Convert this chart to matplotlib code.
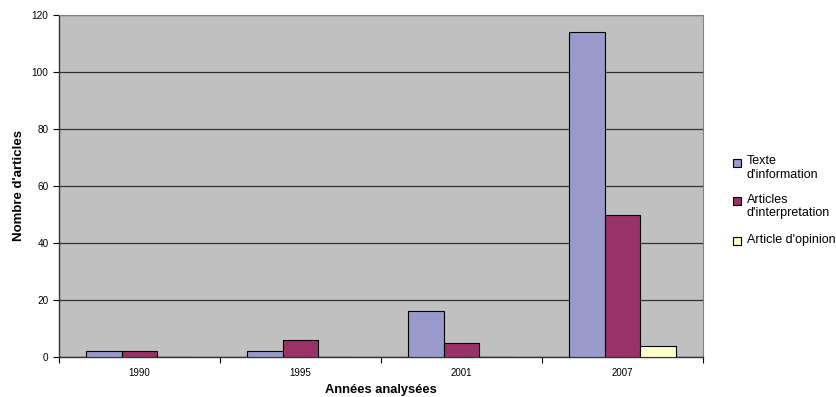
import matplotlib
matplotlib.use("Agg")
import matplotlib.pyplot as plt
from matplotlib.patches import Rectangle
import numpy as np

plt.rcParams['font.family'] = ['Liberation Sans', 'DejaVu Sans']

years = ["1990", "1995", "2001", "2007"]
series_names = ["Texte\nd'information", "Articles\nd'interpretation", "Article d'opinion"]
texte_information = [2, 2, 16, 114]
articles_interpretation = [2, 6, 5, 50]
article_opinion = [0, 0, 0, 4]
colors = ["#9999CC", "#993366", "#FFFFCC"]

W, H = 837, 397
fig = plt.figure(figsize=(W / 100, H / 100), dpi=100)
ax = fig.add_axes([59 / W, 1 - 357 / H, (703 - 59) / W, (357 - 15) / H])
ax.set_facecolor("#C0C0C0")

x = np.arange(len(years))
w = 0.221
for i, (vals, name, c) in enumerate(zip([texte_information, articles_interpretation, article_opinion], series_names, colors)):
    ax.bar(x + (i - 1) * w, vals, w, color=c, edgecolor="black", linewidth=0.8, label=name, zorder=3)

ax.set_xlim(-0.5, len(years) - 0.5)
ax.set_ylim(0, 120)
ax.set_yticks(range(0, 121, 20))
ax.set_xticks(x)
ax.set_xticklabels(years)
ax.set_xticks(np.arange(-0.5, len(years), 1), minor=True)
ax.tick_params(axis='x', which='major', length=0, labelsize=7, pad=8)
ax.tick_params(axis='x', which='minor', length=4, direction='out', width=0.8)
ax.tick_params(axis='y', length=4, direction='out', labelsize=7.2, width=0.8)
ax.yaxis.grid(True, color="#333333", linewidth=0.9, zorder=0)
ax.set_axisbelow(True)
for s in ["top", "right"]:
    ax.spines[s].set_color("#808080")
    ax.spines[s].set_linewidth(0.8)
for s in ["left", "bottom"]:
    ax.spines[s].set_color("#333333")
    ax.spines[s].set_linewidth(1.0)

ax.set_ylabel("Nombre d'articles", fontsize=9.5, fontweight='bold', labelpad=5)
ax.set_xlabel("Années analysées", fontsize=9.3, fontweight='bold', labelpad=4)

# Legend (handle aligned with the first line of each label, as in the original)
first_baselines = [167, 205, 245]
for name, c, yb in zip(series_names, colors, first_baselines):
    fig.patches.append(Rectangle((733 / W, 1 - yb / H), 8 / W, 8 / H, transform=fig.transFigure,
                                 facecolor=c, edgecolor="black", linewidth=0.8))
    fig.text(747 / W, 1 - (yb - 11.5) / H, name, fontsize=9, va='top', ha='left', linespacing=1.15)

fig.savefig("out.png", dpi=100)
